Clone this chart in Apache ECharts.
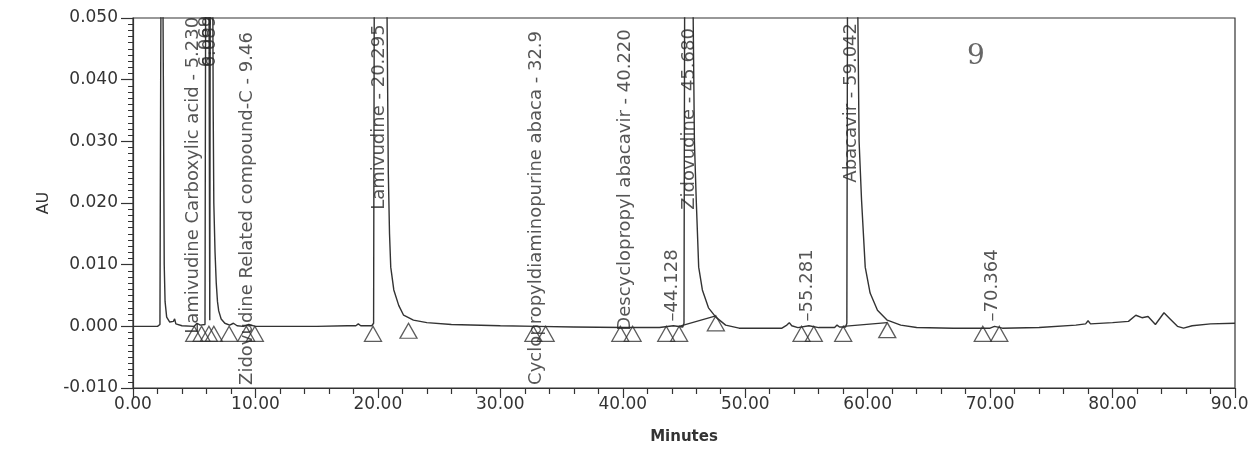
<!DOCTYPE html>
<html>
<head>
<meta charset="utf-8">
<title>Chromatogram</title>
<script src="https://cdn.jsdelivr.net/npm/echarts@6/dist/echarts.min.js"></script>
<style>
  html, body { margin: 0; padding: 0; background: #fff; }
  #chart { width: 1249px; height: 449px; }
</style>
</head>
<body>
<div id="chart"></div>
<script>
// trace: minutes / AU
const traceTime = [0.0, 1.0, 2.0, 2.2, 2.26, 2.35, 2.48, 2.55, 2.62, 2.75, 3.0, 3.3, 3.4, 3.5, 4.0,
  5.0, 5.23, 5.5, 5.88, 5.95, 6.05, 6.2, 6.27, 6.32, 6.45, 6.55, 6.6, 6.7, 6.8, 6.9, 7.0, 7.2, 7.5, 7.9,
  8.2, 8.5, 9.0, 9.46, 10.0, 12.0, 15.0, 17.5, 18.2, 18.4, 18.6, 19.5, 19.65, 19.72, 20.3, 20.75, 20.85,
  20.95, 21.05, 21.3, 21.7, 22.1, 22.9, 24.0, 26.0, 30.0, 33.0, 36.0, 40.0, 43.0, 44.13, 44.9, 45.0,
  45.07, 45.5, 45.75, 45.85, 46.0, 46.2, 46.5, 47.0, 47.6, 48.4, 49.5, 51.0, 53.0, 53.4, 53.6, 53.8,
  54.3, 55.2, 56.0, 57.3, 57.5, 57.7, 58.2, 58.3, 58.37, 58.8, 59.2, 59.3, 59.5, 59.8, 60.2, 60.8, 61.6,
  62.7, 64.0, 67.0, 70.0, 70.36, 71.0, 74.0, 77.0, 77.8, 78.0, 78.2, 80.0, 81.3, 81.9, 82.4, 82.9, 83.5,
  84.2, 84.7, 85.3, 85.8, 86.5, 88.0, 90.0];
const traceAU = [0.0000, 0.0000, 0.0000, 0.0003, 0.04, 0.09, 0.04, 0.01, 0.004, 0.0015, 0.0007, 0.0008, 0.0012, 0.0004, 0.0001,
  0.0000, 0.0005, 0.0002, 0.0003, 0.07, 0.09, 0.06, 0.001, 0.07, 0.09, 0.035, 0.02, 0.012, 0.007, 0.004, 0.0025, 0.0012, 0.0005, 0.0002,
  0.0005, 0.0001, 0.0000, 0.0003, 0.0000, 0.0000, 0.0000, 0.0001, 0.0001, 0.0004, 0.0001, 0.0001, 0.0005, 0.07, 0.15, 0.05, 0.025,
  0.015, 0.0096, 0.0059, 0.0034, 0.0018, 0.0010, 0.0006, 0.0003, 0.0001, 0.0000, -0.0001, -0.0002, -0.0002, 0.0001, -0.0001, 0.0005,
  0.07, 0.12, 0.05, 0.03, 0.0205, 0.0096, 0.0059, 0.0030, 0.0015, 0.0002, -0.0003, -0.0003, -0.0003, 0.0002, 0.0006, 0.0001,
  -0.0002, 0.0001, -0.0002, -0.0002, 0.0002, -0.0001, -0.0001, 0.0005, 0.07, 0.12, 0.05, 0.03, 0.0205, 0.0096, 0.0054, 0.0026, 0.0010,
  0.0002, -0.0002, -0.0003, -0.0003, 0.0000, -0.0003, -0.0002, 0.0002, 0.0004, 0.0009, 0.0004, 0.0006, 0.0008, 0.0018, 0.0014, 0.0016, 0.0003,
  0.0022, 0.0012, 0.0000, -0.0003, 0.0001, 0.0004, 0.0005];

// peak start / end markers
const markTime = [5.0, 5.6, 6.2, 6.6, 7.85, 9.25, 9.95, 19.6, 22.5, 32.7, 33.7, 39.8, 40.8, 43.55, 44.6, 47.6, 54.6, 55.6, 58.0, 61.6, 69.4, 70.75];
const markAU = [0, 0, 0, 0, 0, 0, 0, 0, 0.0005, 0, 0, 0, 0, 0, 0, 0.0017, 0, 0, 0, 0.0006, 0, 0];

// peak labels (text as printed, clipped by the frame), where each label starts
const peakText = ['Lamivudine Carboxylic acid - 5.230', '6.069', '6.089', 'Zidovudine Related compound-C - 9.46',
  'Lamivudine - 20.295', 'Cyclopropyldiaminopurine abaca - 32.9', 'Descyclopropyl abacavir - 40.220', '\u201344.128',
  'Zidovudine - 45.680', '\u201355.281', 'Abacavir - 59.042', '\u201370.364'];
const peakTime = [4.95, 5.95, 6.3, 9.34, 20.1, 32.9, 40.2, 44.05, 45.4, 55.1, 58.7, 70.2];
const peakStart = [-0.0012, 0.042, 0.042, -0.0095, 0.0189, -0.0095, -0.0007, 0.0008, 0.0189, 0.0008, 0.0233, 0.0008];

// integration baselines drawn under tailing peaks
const baseFrom = [[44.6, 0], [58.0, 0]];
const baseTo = [[47.6, 0.0017], [61.6, 0.0006]];

const ink = '#333';
const font = 'DejaVu Sans';

const chart = echarts.init(document.getElementById('chart'));

const option = {
  animation: false,
  backgroundColor: '#fff',
  title: {
    text: '9',
    left: 962,
    top: 38,
    textStyle: { color: '#666', fontSize: 28, fontWeight: 'normal', fontFamily: 'DejaVu Serif' }
  },
  grid: {
    left: 133, right: 14, top: 18, bottom: 61,
    show: true, borderColor: ink, borderWidth: 1.2,
    containLabel: false, outerBoundsMode: 'none'
  },
  xAxis: {
    type: 'value', min: 0, max: 90, interval: 10,
    name: 'Minutes', nameLocation: 'middle', nameGap: 42,
    nameTextStyle: { color: ink, fontSize: 15, fontWeight: 'bold', fontFamily: font },
    axisLine: { onZero: false, lineStyle: { color: ink, width: 1.2 } },
    axisTick: { length: 10, lineStyle: { color: ink, width: 1.2 } },
    minorTick: { show: true, splitNumber: 5, length: 6, lineStyle: { color: ink, width: 1.2 } },
    splitLine: { show: false },
    axisLabel: { color: ink, fontSize: 17, fontFamily: font, margin: 8, formatter: v => v.toFixed(2) }
  },
  yAxis: {
    type: 'value', min: -0.01, max: 0.05, interval: 0.01,
    name: 'AU', nameLocation: 'middle', nameGap: 80,
    nameTextStyle: { color: ink, fontSize: 16, fontFamily: font },
    axisLine: { lineStyle: { color: ink, width: 1.2 } },
    axisTick: { length: 12, lineStyle: { color: ink, width: 1.2 } },
    minorTick: { show: true, splitNumber: 10, length: 5, lineStyle: { color: ink, width: 1 } },
    splitLine: { show: false },
    axisLabel: { color: ink, fontSize: 17, fontFamily: font, margin: 15, formatter: v => v.toFixed(3) }
  },
  series: [
    {
      name: 'trace',
      type: 'line',
      data: traceTime.map((t, i) => [t, traceAU[i]]),
      showSymbol: false,
      clip: true,
      lineStyle: { color: ink, width: 1.4 },
      markLine: {
        silent: true,
        symbol: 'none',
        label: { show: false },
        lineStyle: { color: ink, width: 1.2, type: 'solid' },
        data: baseFrom.map((p, i) => [{ coord: p }, { coord: baseTo[i] }])
      },
      z: 3
    },
    {
      name: 'marks',
      type: 'scatter',
      data: markTime.map((t, i) => [t, markAU[i]]),
      symbol: 'triangle',
      symbolSize: [17, 15],
      symbolOffset: [0, 7.5],
      itemStyle: { color: 'transparent', borderColor: ink, borderWidth: 1.3 },
      z: 4
    },
    {
      name: 'labels',
      type: 'scatter',
      data: peakTime.map((t, i) => ({ value: [t, peakStart[i]], label: { formatter: peakText[i] } })),
      symbolSize: 0,
      label: {
        show: true,
        position: [0, 0],
        rotate: 90,
        align: 'left',
        verticalAlign: 'middle',
        color: '#2a2a2a',
        fontSize: 18,
        fontFamily: font
      },
      z: 5
    }
  ]
};

chart.setOption(option);
</script>
</body>
</html>
